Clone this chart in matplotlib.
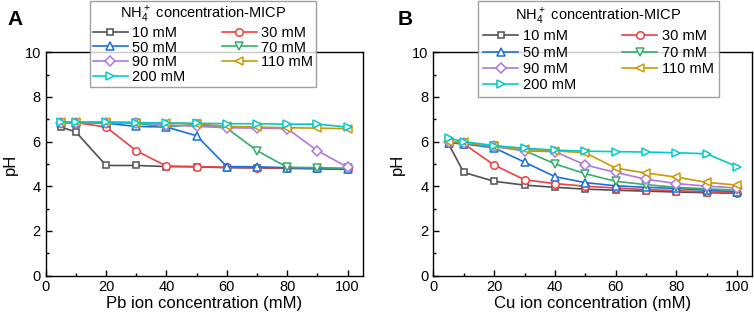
import matplotlib
matplotlib.use("Agg")
import matplotlib.pyplot as plt
from matplotlib.ticker import MultipleLocator

plt.rcParams['font.family'] = ['Liberation Sans', 'DejaVu Sans']
plt.rcParams['mathtext.fontset'] = 'custom'
plt.rcParams['mathtext.rm'] = 'Liberation Sans'

x = [5, 10, 20, 30, 40, 50, 60, 70, 80, 90, 100]
labels = ["10 mM", "30 mM", "50 mM", "70 mM", "90 mM", "110 mM", "200 mM"]
colors = ["#515151", "#F14040", "#1A6FDF", "#37AD6B", "#B177DE", "#CC9900", "#00CBCC"]
markers = ["s", "o", "^", "v", "D", "<", ">"]

pb_10 = [6.65, 6.43, 4.93, 4.93, 4.88, 4.87, 4.83, 4.82, 4.80, 4.78, 4.75]
pb_30 = [6.85, 6.85, 6.65, 5.59, 4.90, 4.88, 4.85, 4.83, 4.82, 4.80, 4.78]
pb_50 = [6.85, 6.85, 6.82, 6.68, 6.65, 6.26, 4.88, 4.87, 4.83, 4.80, 4.78]
pb_70 = [6.85, 6.85, 6.85, 6.82, 6.65, 6.78, 6.60, 5.59, 4.85, 4.83, 4.80]
pb_90 = [6.85, 6.85, 6.85, 6.85, 6.75, 6.68, 6.62, 6.60, 6.58, 5.59, 4.85]
pb_110 = [6.88, 6.87, 6.87, 6.85, 6.83, 6.80, 6.68, 6.65, 6.62, 6.60, 6.58]
pb_200 = [6.88, 6.88, 6.87, 6.85, 6.83, 6.82, 6.80, 6.80, 6.78, 6.78, 6.65]

cu_10 = [5.90, 4.62, 4.22, 4.05, 3.95, 3.87, 3.82, 3.78, 3.74, 3.71, 3.68]
cu_30 = [5.95, 5.90, 4.95, 4.29, 4.12, 4.00, 3.92, 3.85, 3.80, 3.75, 3.70]
cu_50 = [5.95, 5.90, 5.72, 5.08, 4.43, 4.16, 4.02, 3.95, 3.90, 3.82, 3.75]
cu_70 = [6.00, 5.95, 5.78, 5.60, 5.00, 4.56, 4.22, 4.07, 3.95, 3.88, 3.82]
cu_90 = [6.00, 5.95, 5.78, 5.58, 5.55, 4.95, 4.62, 4.31, 4.12, 4.00, 3.92]
cu_110 = [6.00, 5.97, 5.78, 5.65, 5.58, 5.50, 4.81, 4.59, 4.41, 4.17, 4.05]
cu_200 = [6.15, 6.00, 5.82, 5.70, 5.62, 5.57, 5.55, 5.53, 5.50, 5.45, 4.87]

pb = [pb_10, pb_30, pb_50, pb_70, pb_90, pb_110, pb_200]
cu = [cu_10, cu_30, cu_50, cu_70, cu_90, cu_110, cu_200]

fig = plt.figure(figsize=(7.54, 3.18), dpi=100)
axA = fig.add_axes([0.0606, 0.1336, 0.4205, 0.702])
axB = fig.add_axes([0.5747, 0.1336, 0.4233, 0.702])

def draw(ax, data, xlabel, letter, letter_x, leg_x, colsp, labsp, bpad):
    handles = []
    for y, c, m, lab in zip(data, colors, markers, labels):
        ms = {"s": 4.6, "D": 4.6}.get(m, 5.4)
        h, = ax.plot(x, y, color=c, marker=m, markerfacecolor="white",
                     markeredgecolor=c, markersize=ms, markeredgewidth=1.1,
                     linewidth=1.2, label=lab)
        handles.append(h)
    ax.set_xlim(0, 105)
    ax.set_ylim(0, 10)
    ax.xaxis.set_major_locator(MultipleLocator(20))
    ax.xaxis.set_minor_locator(MultipleLocator(10))
    ax.yaxis.set_major_locator(MultipleLocator(2))
    ax.yaxis.set_minor_locator(MultipleLocator(1))
    ax.tick_params(which="both", direction="in", top=False, right=False, labelsize=10.5)
    ax.tick_params(which="major", length=4, width=1)
    ax.tick_params(which="minor", length=2.5, width=1)
    for s in ax.spines.values():
        s.set_linewidth(1.0)
    ax.set_xlabel(xlabel, fontsize=12, labelpad=1)
    ax.set_ylabel("pH", fontsize=12, labelpad=5)
    order = [0, 2, 4, 6, 1, 3, 5]
    leg = fig.legend([handles[i] for i in order], [labels[i] for i in order],
                     ncol=2, loc="upper left", bbox_to_anchor=(leg_x, 0.997),
                     bbox_transform=fig.transFigure,
                     title="NH$_4^+$ concentration-MICP", title_fontsize=10.5,
                     fontsize=10.5, frameon=True, fancybox=False, edgecolor="#888888",
                     borderpad=bpad, labelspacing=labsp, handlelength=2.4,
                     handletextpad=0.3, columnspacing=colsp, borderaxespad=0)
    leg.get_frame().set_linewidth(1.0)
    fig.text(letter_x, 0.94, letter, fontsize=15, fontweight="bold", ha="left", va="center")

draw(axA, pb, "Pb ion concentration (mM)", "A", 0.010, 0.119, 2.5, 0.05, 0.2)
draw(axB, cu, "Cu ion concentration (mM)", "B", 0.527, 0.634, 3.2, 0.15, 0.35)

fig.savefig("out.png", dpi=100)
